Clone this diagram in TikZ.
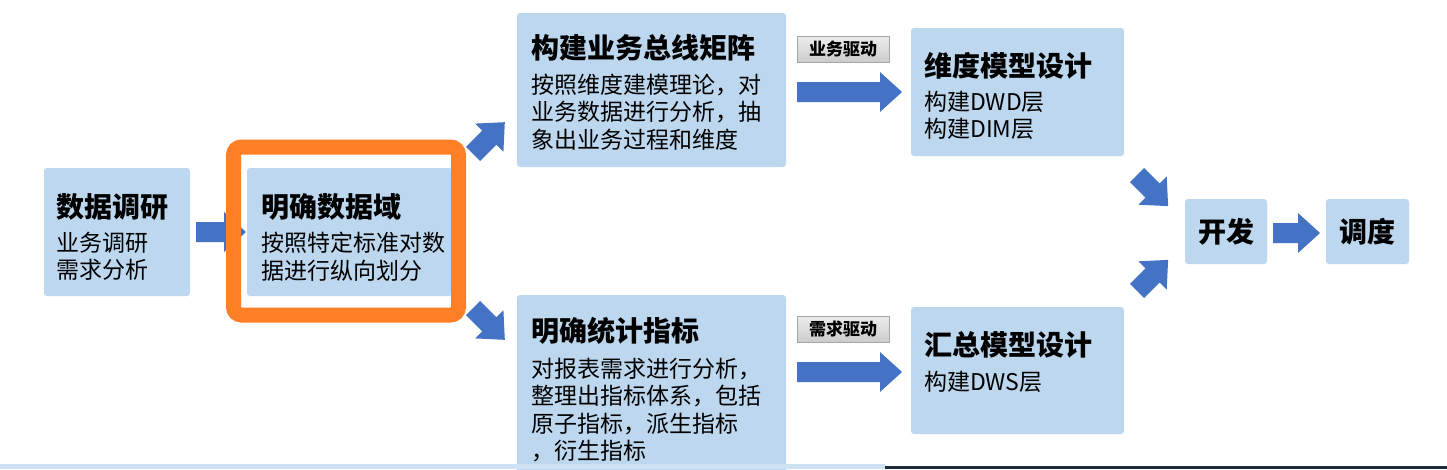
\documentclass[tikz,border=0pt]{standalone}
\usepackage{fontspec}
\setmainfont{Noto Sans CJK SC}
\definecolor{boxblue}{HTML}{BDD7EE}
\definecolor{arrowblue}{HTML}{4472C4}
\definecolor{frameorange}{HTML}{FF7F27}
\definecolor{stripblue}{HTML}{CFE2F5}
\definecolor{stripdark}{HTML}{1E2B3C}
\newcommand\blockarr[4]{%
  \begin{scope}[shift={(#1,#2)},rotate=#3]
    \fill[arrowblue] (0,-10) -- ({#4-22},-10) -- ({#4-22},-20) -- (#4,0) -- ({#4-22},20) -- ({#4-22},10) -- (0,10) -- cycle;
  \end{scope}}
\tikzset{
  box/.style={fill=boxblue, rounded corners=3pt, inner sep=0pt, outer sep=0pt, anchor=north west},
  ttl/.style={anchor=west, inner sep=0pt, font=\fontsize{28}{32}\selectfont\bfseries},
  body/.style={anchor=west, inner sep=0pt, align=left, font=\fontsize{23}{27.5}\selectfont},
  tagbox/.style={draw=gray!70, top color=gray!15, bottom color=gray!40, inner sep=0pt,
    minimum width=92pt, minimum height=26pt, font=\fontsize{17}{17}\selectfont\bfseries},
  ctr/.style={inner sep=0pt, font=\fontsize{28}{32}\selectfont\bfseries}
}
\begin{document}
\begin{tikzpicture}[x=1pt,y=-1pt]
\fill[white] (0,0) rectangle (1447,469);
\useasboundingbox (0,0) rectangle (1447,469);
% boxes
\node[box, minimum width=146pt, minimum height=128pt] (b1) at (44,168) {};
\node[box, minimum width=205pt, minimum height=128pt] (b2) at (247,168) {};
\node[box, minimum width=269pt, minimum height=154pt] (b3) at (517,13) {};
\node[box, minimum width=269pt, minimum height=180pt] (b4) at (517,295) {};
\node[box, minimum width=213pt, minimum height=128pt] (b5) at (911,28) {};
\node[box, minimum width=213pt, minimum height=127pt] (b6) at (911,307) {};
\node[box, minimum width=82pt, minimum height=65pt] (b7) at (1185,199) {};
\node[box, minimum width=83pt, minimum height=65pt] (b8) at (1326,199) {};
% texts
\node[ttl] (t1) at (56,207) {数据调研};
\node[body] (d1) at (56,256.5) {业务调研\\需求分析};
\node[ttl] (t2) at (261,207) {明确数据域};
\node[body] (d2) at (261,256.5) {按照特定标准对数\\据进行纵向划分};
\node[ttl] (t3) at (531,48) {构建业务总线矩阵};
\node[body] (d3) at (531,112) {按照维度建模理论，对\\业务数据进行分析，抽\\象出业务过程和维度};
\node[ttl] (t4) at (531,331) {明确统计指标};
\node[body] (d4) at (531,410) {对报表需求进行分析，\\整理出指标体系，包括\\原子指标，派生指标\\，衍生指标};
\node[ttl] (t5) at (924,66) {维度模型设计};
\node[body] (d5) at (924,115.5) {构建DWD层\\构建DIM层};
\node[ttl] (t6) at (924,345) {汇总模型设计};
\node[body] (d6) at (924,382) {构建DWS层};
\node[ctr] at (b7.center) {开发};
\node[ctr] at (b8.center) {调度};
% tags
\node[tagbox] (g1) at (843,49) {业务驱动};
\node[tagbox] (g2) at (843,329) {需求驱动};
% block arrows
\blockarr{196}{232}{0}{50}
\blockarr{473}{154}{45}{45}
\blockarr{473}{308}{-45}{45}
\blockarr{797}{92}{0}{105}
\blockarr{797}{372}{0}{105}
\blockarr{1137}{175}{-45}{44}
\blockarr{1137}{291}{45}{44}
\blockarr{1273}{233}{0}{47}
% orange highlight frame
\draw[frameorange, line width=15pt, rounded corners=8pt] (233.5,147) rectangle (458.5,315);
% bottom strips
\fill[stripblue] (0,464) rectangle (885,469);
\fill[stripdark] (885,466) rectangle (1447,469);
\end{tikzpicture}
\end{document}
